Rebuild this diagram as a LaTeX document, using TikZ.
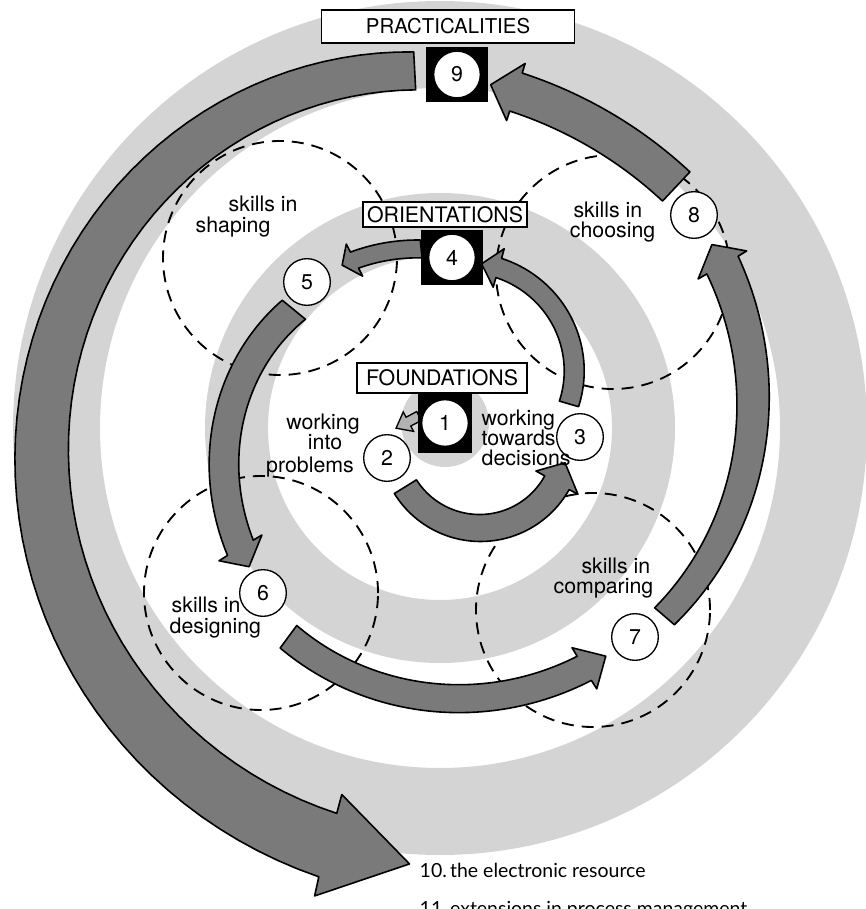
\documentclass[tikz,border=0pt]{standalone}
\usepackage{fontspec}
\setmainfont{TeX Gyre Heros}
\newfontfamily\listfont{Lato}
\usetikzlibrary{calc}

\tikzset{
  ring/.style={fill=black!17},
  dashcircle/.style={draw,line width=1.4pt,dash pattern=on 9pt off 6pt},
  arrowbody/.style={fill=black!52,draw=black,line width=1.2pt,line join=round},
  smallarrow/.style={fill=black!30,draw=black,line width=1pt},
  blackbox/.style={fill=black,inner sep=0pt},
  numcircle/.style={circle,draw,fill=white,line width=1pt,minimum size=35pt,inner sep=0pt},
  labelbox/.style={draw,fill=white,line width=1.1pt,inner sep=0pt}
}

% spiral block arrow: centre, start angle, head angle, tip angle,
% start radius, tip radius, start width, head width, barb width
\newcommand\spiralarrow[9]{%
  \begin{scope}[shift={(#1)}]
    \pgfmathsetmacro\rk{((#6)-(#5))/((#4)-(#2))}
    \pgfmathsetmacro\wk{((#8)-(#7))/((#3)-(#2))}
    \pgfmathsetmacro\rb{(#5)+((#3)-(#2))*\rk}
    \filldraw[arrowbody]
      plot[domain=0:1,samples=60] ({(#2)+\x*((#3)-(#2))}:{(#5)+\x*((#3)-(#2))*\rk+((#7)+\x*((#3)-(#2))*\wk)/2})
      -- (#3:{\rb+(#9)/2}) -- (#4:#6) -- (#3:{\rb-(#9)/2})
      -- plot[domain=0:1,samples=60] ({(#3)-\x*((#3)-(#2))}:{(#5)+(1-\x)*((#3)-(#2))*\rk-((#7)+(1-\x)*((#3)-(#2))*\wk)/2})
      -- cycle;
  \end{scope}}

\begin{document}
\begin{tikzpicture}[x=0.75pt,y=0.75pt,every node/.style={font=\fontsize{16}{15.5}\selectfont}]
\useasboundingbox (0,0) rectangle (865,-909);
\coordinate (O) at (440,-428);
\coordinate (c23) at (480,-440);
\coordinate (c34) at (468,-375);
\coordinate (c89) at (383,-501);

% halftone rings
\fill[ring,even odd rule] (O) circle (427) circle (340);
\fill[ring,even odd rule] (O) circle (235) circle (172);
\fill[ring] (445,-423) circle (44);

% skill circles
\foreach \x/\y in {280/258,613/272,261/593,593/610}
  \draw[dashcircle] (\x,-\y) circle (117);

% arrows
\spiralarrow{O}{94}{255}{266}{358}{437}{38}{66}{105}
\spiralarrow{c23}{212}{331}{345}{88}{88}{26}{28}{48}
\spiralarrow{c34}{-16}{74}{83}{105}{112}{20}{20}{40}
\spiralarrow{O}{96}{117}{121}{180}{190}{18}{18}{36}
\spiralarrow{O}{141}{211}{216}{188}{236}{30}{30}{50}
\spiralarrow{O}{234}{301}{306}{258}{282}{28}{28}{48}
\spiralarrow{O}{320}{390}{394}{293}{328}{26}{36}{56}
\spiralarrow{c89}{47}{72}{75.5}{430}{430}{40}{40}{60}
\draw[smallarrow,shift={(419,-416)},rotate=208]
  (0,5) -- (12,5) -- (12,11) -- (26,0) -- (12,-11) -- (12,-5) -- (0,-5) -- cycle;

% stage boxes
\node[labelbox,minimum width=190pt,minimum height=25pt] (prac) at (448,-26.5) {\fontsize{15.3}{15}\selectfont PRACTICALITIES};
\node[labelbox,minimum width=123pt,minimum height=19pt] (orie) at (445,-214.5) {ORIENTATIONS};
\node[labelbox,minimum width=127.5pt,minimum height=22.5pt] (foun) at (442,-378) {FOUNDATIONS};
\node[blackbox,minimum width=46.5pt,minimum height=41pt] (b9) at (457,-74.5) {};
\node[blackbox,minimum width=46.5pt,minimum height=41pt] (b4) at (452,-257.5) {};
\node[blackbox,minimum width=40.5pt,minimum height=45pt] (b1) at (445,-423) {};
\node[numcircle] at (b9) {9};
\node[numcircle] at (b4) {4};
\node[numcircle] at (b1) {1};
\foreach \n/\x/\y in {2/387/458,3/580/437,5/307/282,6/263/593,7/635/637,8/694/215}
  \node[numcircle] (n\n) at (\x,-\y) {\n};

% texts
\node[anchor=base west] (sh1) at (224,-212) {skills in};
\node[anchor=base west] (sh2) at (191,-233) {shaping};
\node[anchor=base east] (ch1) at (647,-218) {skills in};
\node[anchor=base east] (ch2) at (660,-238) {choosing};
\node[anchor=base west] (de1) at (167,-612) {skills in};
\node[anchor=base west] (de2) at (165,-633) {designing};
\node[anchor=base east] (co1) at (655,-573) {skills in};
\node[anchor=base east] (co2) at (658,-593) {comparing};
\node[anchor=base] (wp1) at (323,-429) {working};
\node[anchor=base] (wp2) at (325,-449) {into};
\node[anchor=base] (wp3) at (310,-472) {problems};
\node[anchor=base west] (wd1) at (477,-425) {working};
\node[anchor=base west] (wd2) at (477,-445) {towards};
\node[anchor=base west] (wd3) at (477,-465) {decisions};
\node[anchor=base west,font=\listfont\fontsize{14.6}{14}\selectfont] (l10) at (415,-877) {10.\,the electronic resource};
\node[anchor=base west,font=\listfont\fontsize{14.6}{14}\selectfont] (l11) at (415,-915) {11.\,extensions in process management};
\end{tikzpicture}
\end{document}
